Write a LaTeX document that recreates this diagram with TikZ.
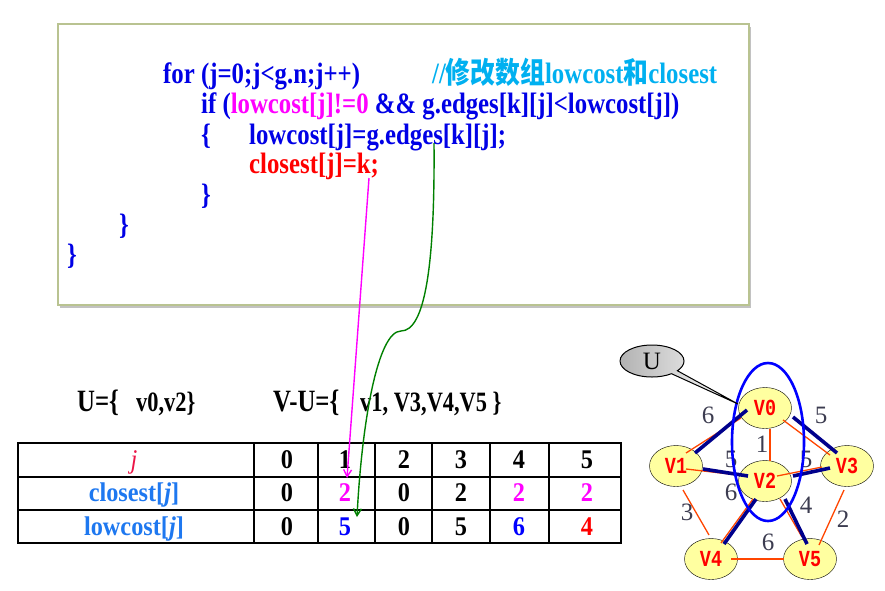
\documentclass[tikz,border=0pt]{standalone}
\usepackage{fontspec}
\setmainfont{Liberation Serif}
\newfontfamily\codefont{Liberation Serif}[FakeStretch=0.84]
\newfontfamily\narrowfont{Liberation Serif}[FakeStretch=0.8]
\newfontfamily\tabfont{Liberation Serif}[FakeStretch=0.9]
\newfontfamily\cjkfont{Noto Sans CJK SC}[FakeStretch=0.84]
\newfontfamily\vfont{Liberation Mono}[FakeStretch=0.8]
\usetikzlibrary{calc,shapes.geometric,shapes.callouts,shadows,arrows.meta}
\definecolor{codeblue}{RGB}{0,0,230}
\definecolor{cmtcyan}{RGB}{0,176,240}
\definecolor{hotmag}{RGB}{255,0,255}
\definecolor{codered}{RGB}{255,0,0}
\definecolor{tabblue}{RGB}{30,120,240}
\definecolor{jred}{RGB}{235,20,70}
\definecolor{boxline}{RGB}{185,195,145}
\definecolor{vyellow}{RGB}{255,255,160}
\definecolor{edgered}{RGB}{255,69,0}
\definecolor{treeblue}{RGB}{0,0,140}
\definecolor{wgtgray}{RGB}{60,60,80}
\definecolor{arrowgreen}{RGB}{0,128,0}
\begin{document}
\begin{tikzpicture}[x=1pt,y=-1pt,
  code/.style={anchor=base west,inner sep=0pt,font=\codefont\bfseries\fontsize{29.5}{30}\selectfont},
  setbig/.style={anchor=base west,inner sep=0pt,font=\narrowfont\bfseries\fontsize{31}{31}\selectfont},
  setsmall/.style={anchor=base west,inner sep=0pt,font=\narrowfont\bfseries\fontsize{28}{28}\selectfont},
  cell/.style={anchor=base,inner sep=0pt,font=\tabfont\bfseries\fontsize{27}{27}\selectfont},
  vtx/.style={ellipse,draw=black,fill=vyellow,minimum width=53pt,minimum height=41pt,inner sep=0pt,
    text=red,font=\vfont\bfseries\fontsize{23}{23}\selectfont},
  wgt/.style={inner sep=0pt,text=wgtgray,font=\fontsize{25}{25}\selectfont},
  thinedge/.style={edgered,line width=1.3pt},
  treeedge/.style={treeblue,line width=3.6pt},
  tabline/.style={line width=1.7pt},
  pointer/.style={line width=1.4pt,-{Straight Barb[length=7pt,width=8pt]}}]
\useasboundingbox (0,0) rectangle (885,590);
% code box
\draw[boxline,line width=1.5pt,fill=white,drop shadow={shadow xshift=2pt,shadow yshift=-3pt,fill=black!40,opacity=.6}] (58,24) rectangle (749,305);
\node[code,text=codeblue] (forline) at (163,83) {for (j=0;j<g.n;j++)};
\node[code,text=cmtcyan] (cmt) at (432,83) {//{\cjkfont\bfseries 修改数组}lowcost{\cjkfont\bfseries 和}closest};
\node[code,text=codeblue] (ifline) at (201,113) {if (\textcolor{hotmag}{lowcost[j]!=0} \&\& g.edges[k][j]<lowcost[j])};
\node[code,text=codeblue] (open) at (201,144) {\{};
\node[code,text=codeblue] (lcline) at (249,144) {lowcost[j]=g.edges[k][j];};
\node[code,text=codered] (clline) at (249,173) {closest[j]=k;};
\node[code,text=codeblue] (close1) at (201,204) {\}};
\node[code,text=codeblue] (close2) at (119,234) {\}};
\node[code,text=codeblue] (close3) at (67,264) {\}};
% sets
\node[setbig] (uset) at (77,411) {U=\{};
\node[setsmall] (uval) at (136,411) {v0,v2\}};
\node[setbig] (rset) at (273,411) {V-U=\{};
\node[setsmall] (rval) at (360,411) {v1, V3,V4,V5 \}};
% table
\draw[tabline] (18,443) rectangle (621,543);
\foreach \y in {477,510} \draw[tabline] (18,\y) -- (621,\y);
\foreach \x in {254,318,375,432,490,549} \draw[tabline] (\x,443) -- (\x,543);
\node[cell,font=\tabfont\itshape\fontsize{27}{27}\selectfont,text=jred] (hj) at (134,468) {j};
\node[cell,text=tabblue] (hcl) at (134,501) {closest[\textit{j}]};
\node[cell,text=tabblue] (hlc) at (134,535) {lowcost[\textit{j}]};
\foreach \x [count=\i from 0] in {287,345,404,461,519,587}
  \node[cell] (h\i) at (\x,468) {\i};
\foreach \x/\v/\c [count=\i from 0] in {287/0/black,345/2/hotmag,404/0/black,461/2/black,519/2/hotmag,587/2/hotmag}
  \node[cell,text=\c] (c\i) at (\x,501) {\v};
\foreach \x/\v/\c [count=\i from 0] in {287/0/black,345/5/blue,404/0/black,461/5/black,519/6/blue,587/4/codered}
  \node[cell,text=\c] (l\i) at (\x,535) {\v};
% pointers from code to table
\coordinate (magtip) at (347,478);
\coordinate (grntip) at (357,517);
\draw[pointer,hotmag] ($(clline.base west)+(120,5)$) -- (magtip);
\draw[pointer,arrowgreen] ($(lcline.base west)+(185,-1)$) .. controls (435,265) and (425,331) .. (401,331)
  .. controls (378,331) and (362,420) .. (grntip);
% graph
\node[vtx] (v0) at (765,408) {V0};
\node[vtx] (v1) at (676,466) {V1};
\node[vtx] (v2) at (765,481) {V2};
\node[vtx] (v3) at (847,466) {V3};
\node[vtx] (v4) at (711,559) {V4};
\node[vtx] (v5) at (810,559) {V5};
\draw[thinedge] ($(v1)+(10,-13)$) -- ($(v0)+(-24,10)$);
\draw[thinedge] ($(v0)+(5,21)$) -- ($(v2)+(5,-20)$);
\draw[thinedge] ($(v0)+(18,12)$) -- ($(v3)+(-17,-11)$);
\draw[thinedge] ($(v1)+(10,3)$) -- ($(v2)+(-18,-5)$);
\draw[thinedge] ($(v2)+(12,-5)$) -- ($(v3)+(-25,1)$);
\draw[thinedge] ($(v1)+(7,24)$) -- ($(v4)+(-2,-24)$);
\draw[thinedge] ($(v2)+(-12,18)$) -- ($(v4)+(10,-16)$);
\draw[thinedge] ($(v2)+(15,18)$) -- ($(v5)+(-8,-22)$);
\draw[thinedge] ($(v3)+(-3,24)$) -- ($(v5)+(9,-14)$);
\draw[thinedge] ($(v4)+(20,0)$) -- ($(v5)+(-26,0)$);
\draw[treeedge] ($(v1)+(19,-13)$) -- ($(v0)+(-18,2)$);
\draw[treeedge] ($(v0)+(28,9)$) -- ($(v3)+(-10,-13)$);
\draw[treeedge] ($(v1)+(27,3)$) -- ($(v2)+(-17,-5)$);
\draw[treeedge] ($(v2)+(28,-5)$) -- ($(v3)+(-17,2)$);
\draw[treeedge] ($(v2)+(-9,18)$) -- ($(v4)+(13,-15)$);
\draw[treeedge] ($(v2)+(20,18)$) -- ($(v5)+(-3,-15)$);
\node[wgt] (w01) at (708,415) {6};
\node[wgt] (w03) at (821,415) {5};
\node[wgt] (w02) at (762,444) {1};
\node[wgt] (w12) at (731,459) {5};
\node[wgt] (w23) at (806,459) {5};
\node[wgt] (w24) at (731,492) {6};
\node[wgt] (w25) at (806,505) {4};
\node[wgt] (w14) at (687,512) {3};
\node[wgt] (w35) at (843,519) {2};
\node[wgt] (w45) at (768,542) {6};
\draw[blue,line width=2.6pt] (768,442) ellipse [x radius=36,y radius=79];
\node[ellipse callout,draw=black,line width=1pt,left color=gray!60,right color=white,
  minimum width=64pt,minimum height=32pt,inner sep=0pt,callout absolute pointer={(738,404)},
  font=\fontsize{25}{25}\selectfont] (ucall) at (652,361) {U};
\end{tikzpicture}
\end{document}
